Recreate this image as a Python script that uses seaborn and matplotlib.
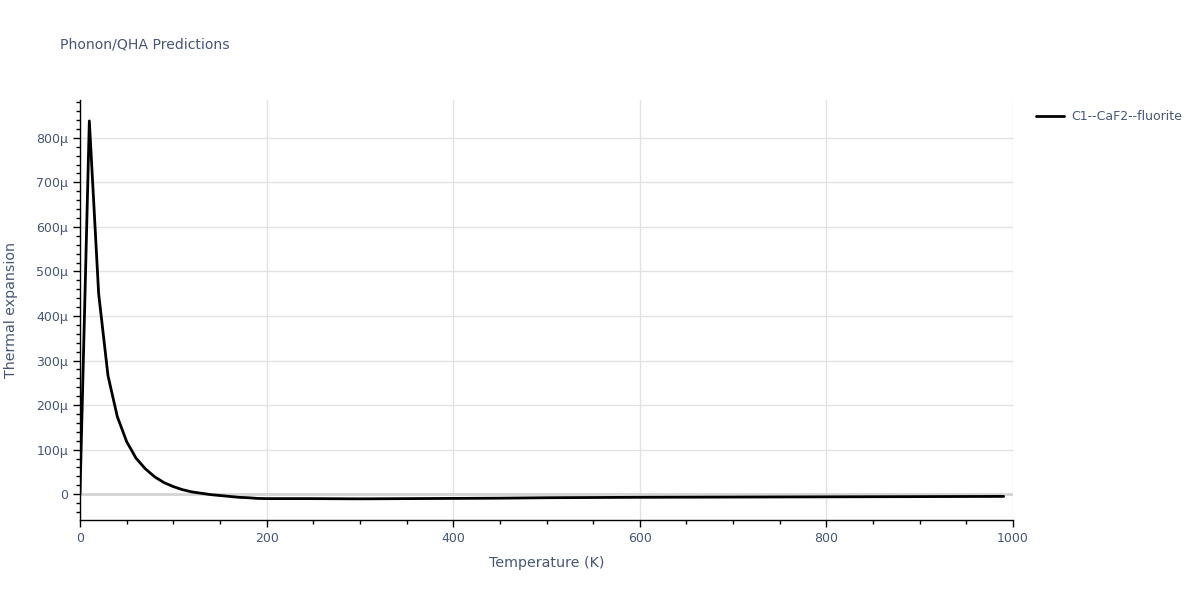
import matplotlib
matplotlib.use("Agg")
import matplotlib.pyplot as plt
from matplotlib.ticker import MultipleLocator, FuncFormatter
import seaborn as sns
import pandas as pd

# temperature (K) and thermal expansion (in units of 1e-6 / K)
temperature = [0, 10, 20, 30, 40, 50, 60, 70, 80, 90, 100, 110, 120, 130, 140,
               150, 160, 170, 180, 190, 200, 250, 300, 350, 400, 450, 500,
               600, 700, 800, 900, 990]
expansion = [0, 838, 450, 266, 174, 118, 81, 57, 39, 26, 17, 10, 5, 2, -1,
             -3, -5, -7, -8, -9.5, -10, -10, -10.5, -10, -9.5, -9, -8,
             -7, -6.5, -6, -5.5, -5]
series_name = "C1--CaF2--fluorite"

df = pd.DataFrame({"T": temperature, "alpha": expansion})
df["series"] = series_name

sns.set_style("white")
plt.rcParams["font.family"] = ["DejaVu Sans"]
text_col = "#465775"

fig = plt.figure(figsize=(12, 6), dpi=100)
ax = fig.add_axes([80 / 1200, 80 / 600, 933 / 1200, 420 / 600])

ax.axhline(0, color="#d4d4d4", lw=2, zorder=1)
sns.lineplot(data=df, x="T", y="alpha", hue="series", palette=["black"],
             lw=2, ax=ax, zorder=3)

ax.set_xlim(0, 1000)
ax.set_ylim(-58, 885)
ax.xaxis.set_major_locator(MultipleLocator(200))
ax.xaxis.set_minor_locator(MultipleLocator(50))
ax.yaxis.set_major_locator(MultipleLocator(100))
ax.yaxis.set_minor_locator(MultipleLocator(20))
ax.yaxis.set_major_formatter(FuncFormatter(lambda v, p: "0" if abs(v) < 1e-9 else f"{v:.0f}μ"))

ax.grid(True, which="major", color="#e2e2e2", lw=1)
ax.set_axisbelow(True)
for side in ["top", "right"]:
    ax.spines[side].set_visible(False)
for side in ["left", "bottom"]:
    ax.spines[side].set_color("black")
    ax.spines[side].set_linewidth(1)

ax.tick_params(which="major", direction="out", length=5, width=1, color="black",
               labelsize=9, labelcolor=text_col, left=True, bottom=True)
ax.tick_params(which="minor", direction="out", length=3, width=1, color="black",
               left=True, bottom=True)

ax.set_xlabel("Temperature (K)", fontsize=10.3, color=text_col, labelpad=8)
ax.set_ylabel("Thermal expansion", fontsize=10.3, color=text_col, labelpad=13)

fig.text(60 / 1200, 1 - 45 / 600, "Phonon/QHA Predictions", fontsize=10.1,
         color=text_col, va="center", ha="left")

leg = ax.legend(loc="upper left", bbox_to_anchor=(1.013, 1.003), frameon=False,
                fontsize=9, handlelength=2.2, handletextpad=0.6)
for t in leg.get_texts():
    t.set_color(text_col)

fig.savefig("out.png", dpi=100)
